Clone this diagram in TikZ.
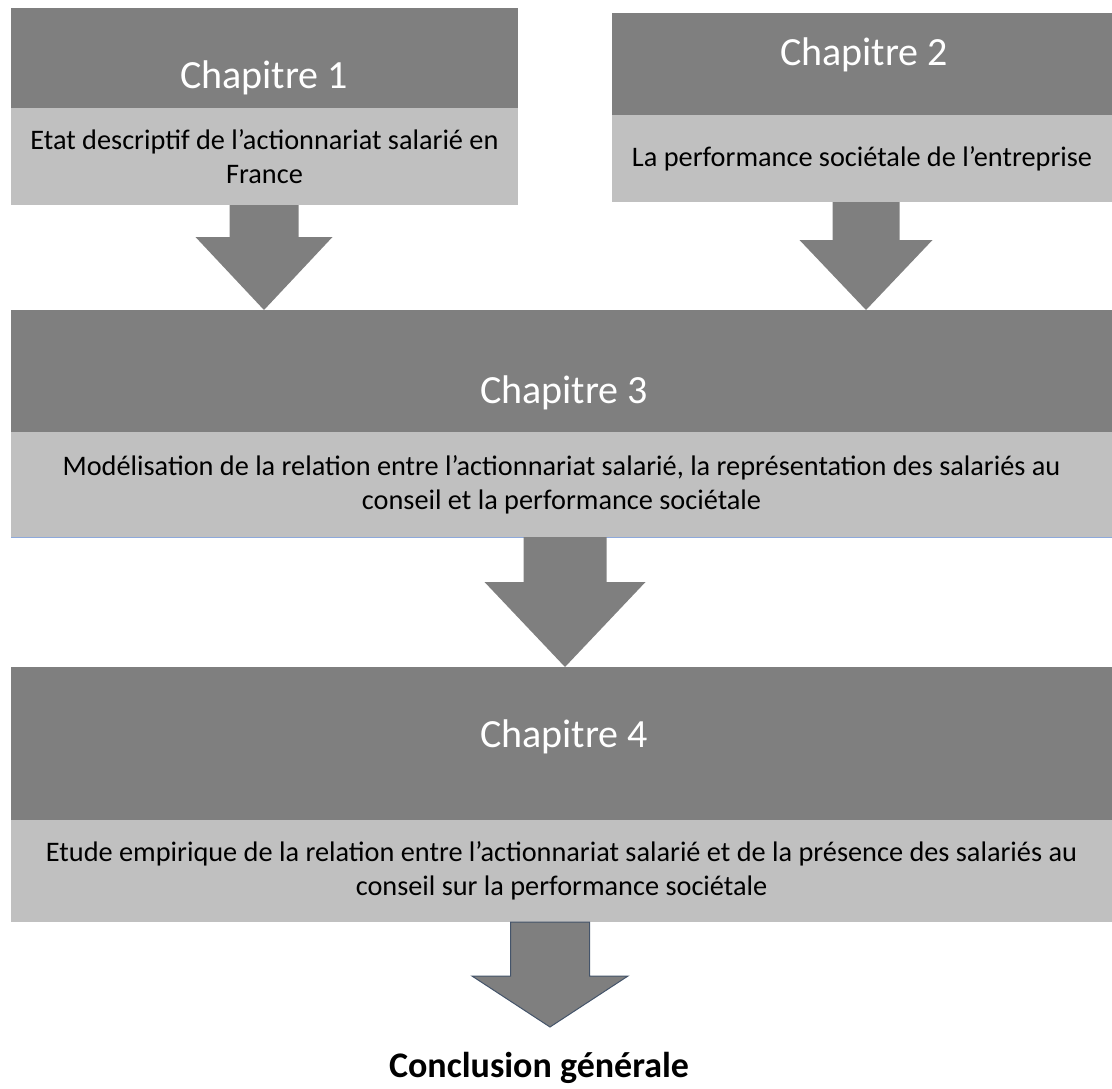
\documentclass[tikz,border=0pt]{standalone}
\usepackage{fontspec}
\setmainfont{Carlito}
\usepackage{tikz}
\usetikzlibrary{calc,positioning}
\definecolor{headgray}{RGB}{127,127,127}
\definecolor{descgray}{RGB}{192,192,192}
\definecolor{ruleblue}{RGB}{142,169,219}
\definecolor{edgeblue}{RGB}{68,84,106}

\tikzset{
  headbox/.style={rectangle, fill=headgray, inner sep=0pt, outer sep=0pt, anchor=north west},
  descbox/.style={rectangle, fill=descgray, inner sep=0pt, outer sep=0pt, align=center,
    font=\fontsize{28.3}{34}\selectfont},
  chaptitle/.style={text=white, font=\fontsize{40}{48}\selectfont},
  arrowplain/.style={fill=headgray},
  arrowedged/.style={fill=headgray, draw=edgeblue, line width=1pt},
}

\begin{document}
\begin{tikzpicture}[x=1pt, y=-1pt]
    \useasboundingbox (0,0) rectangle (1112,1088);
    % chapters 1 and 2
    \node[headbox, minimum width=507pt, minimum height=100pt] (h1) at (11,8) {};
    \node[descbox, minimum width=507pt, minimum height=97pt, below=0pt of h1] (d1)
      {Etat descriptif de l’actionnariat salarié en\\France};
    \node[headbox, minimum width=500pt, minimum height=102pt] (h2) at (612,13) {};
    \node[descbox, minimum width=500pt, minimum height=87pt, below=0pt of h2] (d2)
      {La performance sociétale de l’entreprise};
    % chapter 3
    \node[headbox, minimum width=1101pt, minimum height=122pt] (h3) at (11,310) {};
    \node[descbox, minimum width=1101pt, minimum height=105pt, below=0pt of h3] (d3)
      {Modélisation de la relation entre l’actionnariat salarié, la représentation des salariés au\\
       conseil et la performance sociétale};
    \draw[ruleblue, line width=1pt] (d3.south west) -- (d3.south east);
    % chapter 4
    \node[headbox, minimum width=1101pt, minimum height=153pt] (h4) at (11,667) {};
    \node[descbox, minimum width=1101pt, minimum height=102pt, below=0pt of h4] (d4)
      {Etude empirique de la relation entre l’actionnariat salarié et de la présence des salariés au\\
       conseil sur la performance sociétale};
    \node[chaptitle] (t1) at (264,78) {Chapitre 1};
    \node[chaptitle] (t2) at (864,55) {Chapitre 2};
    \node[chaptitle] (t3) at (564,393) {Chapitre 3};
    \node[chaptitle] (t4) at (564,737) {Chapitre 4};
    \node[font=\fontsize{36}{44}\selectfont\bfseries, anchor=base, inner sep=0pt] (concl)
      at (539,1077) {Conclusion générale};
    \coordinate (tip4) at (550,1027);
    % block arrows: source, target, centre, half shaft, half head, head length
    \foreach \src/\dst/\xc/\sw/\hw/\hl/\st in {d1.south/h3.north/264/34.5/68.5/73/arrowplain,
        d2.south/h3.north/866/33.5/66.5/70/arrowplain,
        d3.south/h4.north/565/41.5/80.5/85/arrowplain,
        d4.south/tip4/550/39.5/78/51/arrowedged} {
      \path (\xc,0 |- \dst) ++(0,-\hl) coordinate (ht);
      \path[\st] (\xc-\sw,0 |- \src) -- (\xc-\sw,0 |- ht) -- (\xc-\hw,0 |- ht)
        -- (\xc,0 |- \dst) -- (\xc+\hw,0 |- ht) -- (\xc+\sw,0 |- ht)
        -- (\xc+\sw,0 |- \src) -- cycle;
    }
\end{tikzpicture}
\end{document}
